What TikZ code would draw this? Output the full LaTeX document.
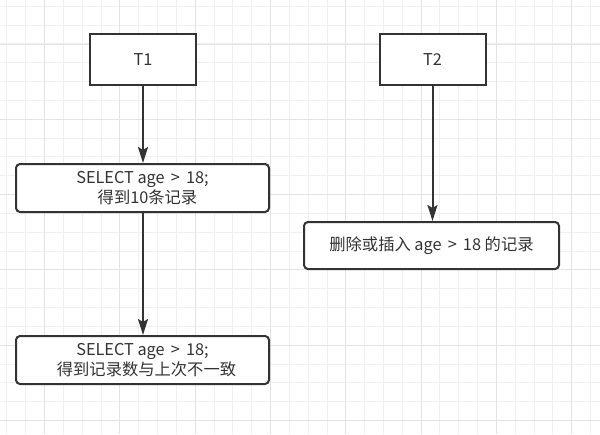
\documentclass[tikz,border=0pt]{standalone}
\usepackage{fontspec}
\setmainfont{Noto Sans CJK SC}
\usepackage{tikz}
\usetikzlibrary{arrows.meta}

\definecolor{ink}{HTML}{333333}
\definecolor{gridminor}{HTML}{F0F0F0}
\definecolor{gridmajor}{HTML}{E3E3E3}
\newcommand{\gtsign}{\ \hspace{2.5pt}>\hspace{2.5pt}\ }

\begin{document}
\begin{tikzpicture}[
x=1pt,
y=-1pt,
box/.style={
rectangle,
draw=ink,
line width=2pt,
fill=white,
text=ink,
inner sep=0pt,
font=\fontsize{16.3}{20.5}\selectfont,
align=center
},
rbox/.style={
box,
rounded corners=4pt
},
flow/.style={
-{Stealth[length=16pt,width=10pt,inset=3pt]},
draw=ink,
line width=2pt
}
]

% background grid
\useasboundingbox (0,0) rectangle (600,434);
\fill[white] (0,0) rectangle (600,434);
\foreach \k in {0,...,31} {
\draw[gridminor, line width=0.8pt] ({6.8+18.83*\k},0) -- ({6.8+18.83*\k},434);
\draw[gridminor, line width=0.8pt] (0,{6.2+18.83*\k}) -- (600,{6.2+18.83*\k});
}
\foreach \k in {0,...,7} {
\draw[gridmajor, line width=0.8pt] ({44.5+75.32*\k},0) -- ({44.5+75.32*\k},434);
\draw[gridmajor, line width=0.8pt] (0,{43.9+75.32*\k}) -- (600,{43.9+75.32*\k});
}

% transactions
\node[box, minimum width=106pt, minimum height=51pt] (t1) at (143,59.5) {T1};
\node[box, minimum width=106pt, minimum height=51pt] (t2) at (432.5,59.5) {T2};

\node[rbox, minimum width=253pt, minimum height=48pt] (first) at (142.5,188)
{SELECT age\gtsign 18;\\\hspace*{10pt}得到10条记录};
\node[rbox, minimum width=253pt, minimum height=48pt] (second) at (142.5,360)
{SELECT age\gtsign 18;\\\hspace*{8pt}得到记录数与上次不一致};
\node[rbox, minimum width=255pt, minimum height=47pt] (change) at (431.5,245.5)
{删除或插入 age\gtsign 18 的记录};

\draw[flow] (t1.south) -- (t1.south |- first.north);
\draw[flow] (first.south -| t1.south) -- (t1.south |- second.north);
\draw[flow] (t2.south) -- (t2.south |- change.north);

\end{tikzpicture}
\end{document}
